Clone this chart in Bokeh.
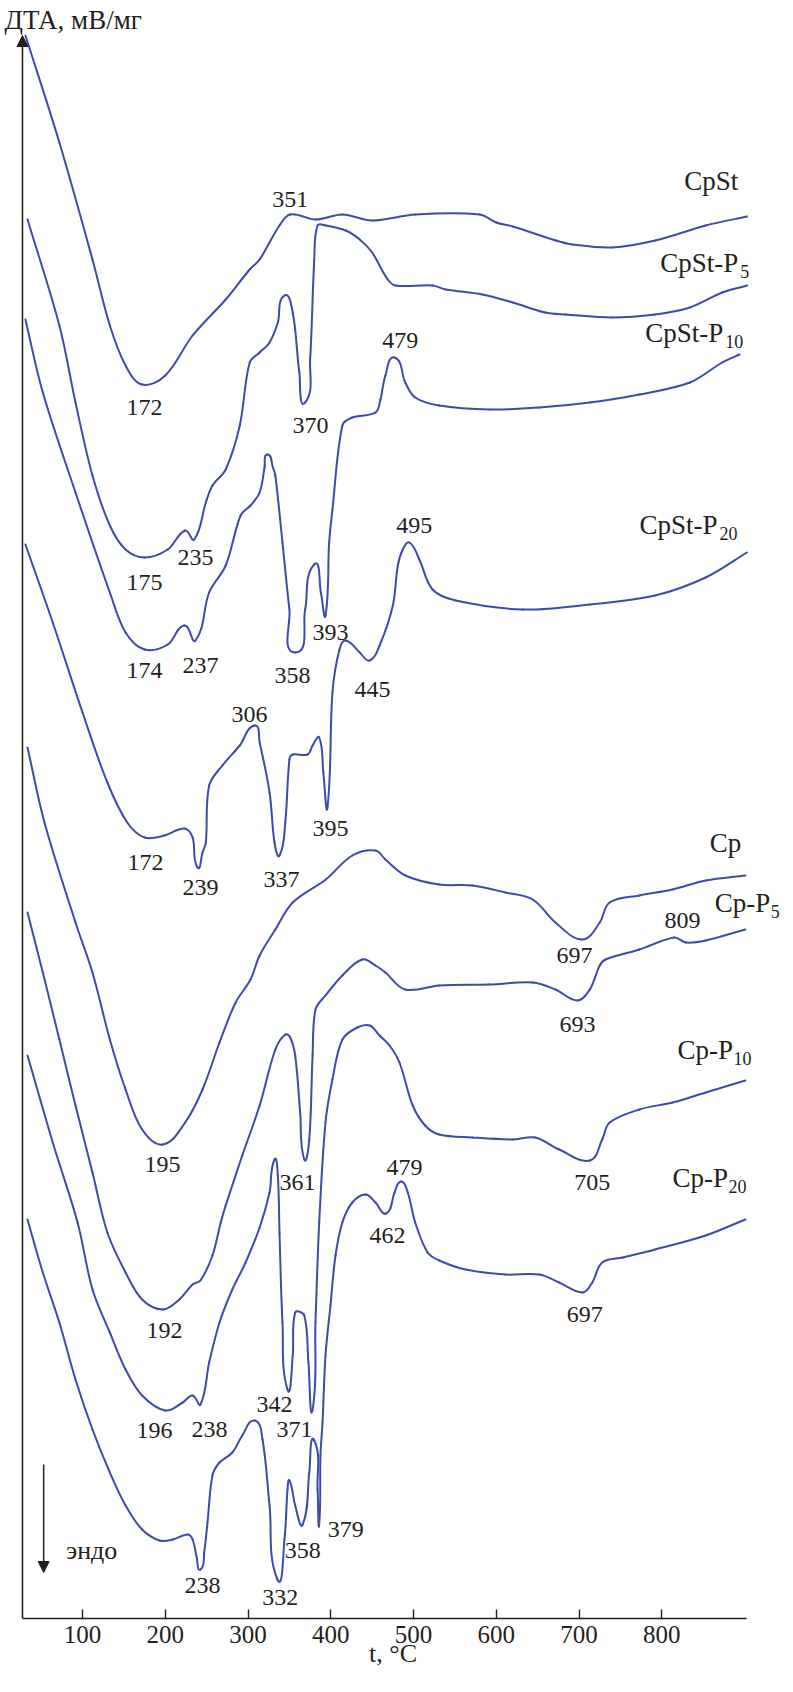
import math
from bokeh.plotting import figure
from bokeh.models import Range1d, FixedTicker, Arrow, NormalHead, Label, ColumnDataSource
from bokeh.core.properties import value
from bokeh.embed import file_html
from bokeh.resources import INLINE

FONT = "Liberation Serif"
INK = "#231f20"
BLUE = "#3d4ca9"

# ---- DTA curves: temperature (°C) and signal (arbitrary units, stacked) ----
cpst_t = [31, 72, 112, 133, 152, 172, 200, 233, 273, 302, 314, 338, 351, 382, 414, 450, 502, 580, 600, 620, 672, 692, 740, 792, 853, 903]
cpst_y = [158.3, 147.6, 135.9, 129.3, 125.3, 123.4, 124.3, 128.3, 131.9, 134.9, 135.9, 139.3, 140.4, 139.9, 140.4, 139.8, 140.4, 140.4, 139.6, 139.2, 137.8, 137.4, 137.1, 137.8, 139.3, 140.2]

cpst_p5_t = [33.5, 72, 91.5, 112, 133, 152, 175, 203, 224, 235, 249, 257, 273, 290, 302, 314, 326, 336, 344, 354, 362, 369, 375, 380, 384, 394, 418, 435, 450, 468, 478, 523, 539, 583, 620, 659, 684, 740, 792, 834, 873, 903]
cpst_p5_y = [139.9, 129.3, 121.6, 114.3, 109.3, 106.9, 106.1, 106.9, 108.8, 107.9, 111.6, 113.3, 114.9, 119.3, 125.6, 126.6, 127.6, 129.6, 132.3, 130.6, 124.6, 121.6, 125.9, 135.9, 139.3, 139.3, 138.8, 137.9, 136.6, 134.0, 133.3, 133.3, 132.9, 132.4, 131.6, 130.6, 130.4, 130.1, 130.4, 131.1, 132.6, 133.3]

cpst_p10_t = [31, 52, 91.5, 133, 152, 175, 203, 223, 236.5, 253, 273, 291, 303, 314, 320, 323.5, 330, 333, 341.6, 350, 357, 369, 380, 388, 393.6, 398, 402, 414, 426, 454, 460, 466, 477, 490, 502, 531, 592, 652, 713, 773, 834, 873, 894]
cpst_p10_y = [129.9, 122.6, 112.6, 102.6, 98.6, 96.9, 97.4, 99.3, 97.8, 102.6, 105.3, 110.3, 111.3, 112.6, 115.1, 116.4, 115.1, 114.3, 107.6, 100.9, 96.6, 100.9, 105.4, 102.6, 100.3, 107.6, 110.9, 119.3, 120.1, 120.6, 121.9, 124.3, 126.1, 123.6, 122.1, 121.3, 120.9, 121.1, 121.6, 122.4, 123.6, 125.6, 126.4]

cpst_p20_t = [31, 64, 100, 130, 154, 175, 199, 223, 233, 239, 245, 249, 253, 269, 290, 308, 314, 326, 332, 338, 345, 350, 354, 372, 378, 386, 391, 396, 402, 410.5, 418, 435, 447, 459, 475, 481, 487, 495, 507, 523, 551, 632, 713, 792, 853, 903]
cpst_p20_y = [107.4, 99.6, 90.6, 83.6, 79.6, 78.1, 78.3, 79.0, 78.1, 75.1, 76.6, 77.6, 83.3, 85.3, 87.3, 89.3, 87.6, 82.6, 77.6, 76.3, 79.6, 85.9, 86.4, 86.4, 87.3, 88.1, 84.6, 81.1, 92.6, 96.9, 97.8, 96.6, 95.8, 97.3, 101.3, 105.3, 106.9, 107.6, 105.9, 102.9, 101.8, 100.9, 101.4, 102.3, 104.1, 106.6]

cp_t = [33.5, 54, 91.5, 112, 133, 152, 172, 197, 224, 245, 265.5, 285, 303, 314, 333, 354, 394, 426, 454, 466, 490, 531, 571, 611, 644, 671.5, 704, 725, 737, 773, 813, 853, 901]
cp_y = [87.1, 79.6, 69.6, 64.6, 57.9, 52.9, 48.9, 47.4, 49.6, 52.9, 57.6, 61.6, 63.9, 66.3, 68.9, 71.6, 73.9, 76.3, 76.8, 75.9, 74.3, 73.4, 73.3, 72.6, 71.9, 69.6, 67.9, 69.6, 71.6, 72.3, 72.9, 73.8, 74.3]

cp_p5_t = [33.5, 52, 72, 91.5, 112, 130, 152, 172, 197, 217, 233, 242.5, 257, 267, 273, 293, 314, 333, 345, 351, 357, 363, 368, 374, 378, 381.5, 393.6, 414, 438, 454, 466, 490, 531, 592, 644, 671.5, 698, 713, 725, 732, 773, 815, 829, 853, 901]
cp_p5_y = [70.6, 64.6, 57.9, 51.3, 44.6, 38.6, 34.6, 31.9, 30.9, 31.9, 33.4, 33.8, 36.3, 39.6, 41.3, 46.3, 51.3, 56.9, 58.4, 58.1, 56.3, 50.6, 45.9, 47.9, 56.3, 60.9, 62.3, 64.3, 65.9, 65.3, 64.6, 62.9, 63.3, 63.4, 63.6, 62.9, 61.8, 62.9, 65.3, 65.9, 66.9, 68.1, 67.6, 67.8, 68.9]

cp_p10_t = [33.5, 64, 94, 112, 133, 152, 172, 200, 221, 233, 242.5, 253, 265.5, 281, 297, 314, 326, 332, 336, 338, 341.6, 347.7, 354, 357, 368, 373, 378, 381.5, 386, 393.6, 402, 414, 432, 447, 459, 471, 483, 499, 514, 531, 571, 620, 647, 676, 713, 728, 737, 773, 813, 853, 901]
cp_p10_y = [56.3, 47.6, 39.6, 32.9, 28.6, 24.9, 22.3, 20.8, 21.6, 22.3, 21.4, 25.6, 29.6, 32.9, 35.6, 39.1, 42.6, 45.9, 44.3, 38.6, 29.6, 22.9, 26.3, 30.6, 30.3, 25.6, 20.9, 29.6, 39.6, 49.6, 53.9, 57.9, 59.1, 59.3, 58.3, 57.3, 55.6, 51.3, 49.3, 48.4, 48.1, 47.9, 48.1, 46.9, 45.8, 47.9, 49.6, 50.9, 51.6, 52.6, 53.8]

cp_p20_t = [33.5, 52, 72, 91.5, 112, 133, 152, 172, 193, 209, 227, 233, 238, 242.5, 247, 251, 257, 265.5, 281, 293, 308, 317.5, 326, 335.6, 344, 347.7, 350, 357, 366, 374, 380, 384, 386, 387.5, 390, 393.6, 399.6, 405.7, 414, 426, 442, 454, 467, 477, 485, 493, 502, 517, 531, 563, 611, 652, 676, 704, 716, 728, 753, 792, 853, 901]
cp_p20_y = [39.9, 34.6, 29.6, 23.9, 18.9, 14.6, 11.3, 8.9, 7.8, 7.9, 8.4, 7.9, 6.1, 4.9, 6.6, 9.6, 14.3, 15.6, 16.6, 18.3, 19.8, 17.9, 11.3, 3.9, 7.9, 12.9, 13.8, 11.3, 9.4, 14.6, 17.8, 12.9, 9.4, 16.3, 19.6, 26.3, 31.3, 36.3, 39.6, 41.6, 42.4, 41.6, 40.5, 42.6, 43.7, 42.6, 39.6, 36.6, 35.8, 34.9, 34.4, 34.4, 33.6, 32.6, 33.6, 35.6, 36.1, 36.9, 38.3, 39.9]

# ---- curve names ----
curve_names = ["CpSt", "CpSt-P", "CpSt-P", "CpSt-P", "Cp", "Cp-P", "Cp-P", "Cp-P"]
curve_subs = ["", "5", "10", "20", "", "5", "10", "20"]
name_t = [827, 798, 780, 773, 858, 864, 819, 813]
name_y = [143.8, 135.6, 128.6, 109.4, 77.6, 71.6, 56.9, 44.1]
sub_dx = [0, 80, 80, 80, 0, 56, 56, 56]

# ---- peak temperature annotations ----
peak_text = ["172", "351",
             "175", "235", "370",
             "174", "237", "358", "393", "479",
             "172", "239", "306", "337", "395", "445", "495",
             "195", "697",
             "192", "361", "693", "809",
             "196", "238", "342", "371", "705",
             "238", "332", "358", "379", "462", "479", "697"]
peak_t = [175, 351,
          175, 236.5, 375.5,
          175, 242.5, 353.7, 399.6, 484,
          176, 242.5, 301.8, 340.4, 399.6, 450.4, 501,
          196.6, 694.5,
          199, 359.7, 698, 825,
          187, 253.4, 332, 356, 716,
          245, 339, 366, 418, 468.5, 489, 707]
peak_y = [121.1, 141.9,
          103.6, 106.1, 119.3,
          94.8, 95.3, 94.3, 98.6, 127.8,
          75.6, 73.1, 90.4, 73.9, 79.0, 92.9, 109.3,
          45.4, 66.3,
          28.8, 43.6, 59.4, 69.8,
          18.8, 18.9, 21.4, 18.9, 43.6,
          3.3, 2.1, 6.8, 8.9, 38.3, 45.1, 30.4]

x_ticks = [100, 200, 300, 400, 500, 600, 700, 800]

curves = [(cpst_t, cpst_y), (cpst_p5_t, cpst_p5_y), (cpst_p10_t, cpst_p10_y),
          (cpst_p20_t, cpst_p20_y), (cp_t, cp_y), (cp_p5_t, cp_p5_y),
          (cp_p10_t, cp_p10_y), (cp_p20_t, cp_p20_y)]

# axis extent (data units) and view extent
T_MIN, T_MAX = 27.4, 902.4
Y_TOP = 158.3

p = figure(width=785, height=1676, output_backend="svg", toolbar_location=None,
           x_range=Range1d(0.85, 949.5), y_range=Range1d(0, 161.8),
           y_axis_location=None,
           min_border_left=0, min_border_right=0, min_border_top=0,
           min_border_bottom=58, background_fill_color="white",
           border_fill_color="white")
p.title.visible = False
p.xgrid.visible = False
p.ygrid.visible = False
p.outline_line_color = None

xa = p.xaxis[0]
xa.bounds = (T_MIN, T_MAX)
xa.ticker = FixedTicker(ticks=x_ticks)
xa.major_tick_in = 9
xa.major_tick_out = 0
xa.minor_tick_line_color = None
xa.axis_line_width = 1.6
xa.axis_line_color = INK
xa.major_tick_line_color = INK
xa.major_tick_line_width = 1.4
xa.major_label_text_font = FONT
xa.major_label_text_font_size = "25px"
xa.major_label_text_color = INK
xa.major_label_standoff = 7
xa.axis_label = "t, °C"
xa.axis_label_text_font = FONT
xa.axis_label_text_font_size = "26px"
xa.axis_label_text_font_style = "normal"
xa.axis_label_text_color = INK
xa.axis_label_standoff = -7

# smooth drawing of each measured curve (cubic segments through the read points)
SX, SY = 0.8275, 10.0
def segments(ts, ys):
    P = [(t * SX, y * SY) for t, y in zip(ts, ys)]
    n = len(P)
    tang = []
    for i in range(n):
        a = P[max(i - 1, 0)]
        b = P[min(i + 1, n - 1)]
        dx, dy = b[0] - a[0], b[1] - a[1]
        L = math.hypot(dx, dy) or 1.0
        tang.append((dx / L, dy / L))
    out = {k: [] for k in ("x0", "y0", "x1", "y1", "cx0", "cy0", "cx1", "cy1")}
    for i in range(n - 1):
        (ax, ay), (bx, by) = P[i], P[i + 1]
        d = math.hypot(bx - ax, by - ay) / 3.0
        out["x0"].append(ax / SX); out["y0"].append(ay / SY)
        out["x1"].append(bx / SX); out["y1"].append(by / SY)
        out["cx0"].append((ax + tang[i][0] * d) / SX)
        out["cy0"].append((ay + tang[i][1] * d) / SY)
        out["cx1"].append((bx - tang[i + 1][0] * d) / SX)
        out["cy1"].append((by - tang[i + 1][1] * d) / SY)
    return out

for t, y in curves:
    s = ColumnDataSource(segments(t, y))
    p.bezier(x0="x0", y0="y0", x1="x1", y1="y1", cx0="cx0", cy0="cy0",
             cx1="cx1", cy1="cy1", source=s, line_color=BLUE, line_width=2.0,
             line_cap="round")

src = ColumnDataSource(dict(x=peak_t, y=peak_y, text=peak_text))
p.text(x="x", y="y", text="text", source=src, text_font=value(FONT),
       text_font_size="24px", text_align="center", text_baseline="middle",
       text_color=INK)

nsrc = ColumnDataSource(dict(x=name_t, y=name_y, text=curve_names))
p.text(x="x", y="y", text="text", source=nsrc, text_font=value(FONT),
       text_font_size="27px", text_align="left", text_baseline="middle",
       text_color=INK)
for i in range(len(curve_subs)):
    if curve_subs[i]:
        p.text(x=[name_t[i]], y=[name_y[i]], text=[curve_subs[i]],
               text_font=value(FONT), text_font_size="18px", text_align="left",
               text_baseline="middle", text_color=INK,
               x_offset=sub_dx[i], y_offset=9)

# vertical (signal) axis with arrow head
p.add_layout(Arrow(end=NormalHead(size=11, fill_color=INK, line_color=INK),
                   x_start=T_MIN, y_start=0, x_end=T_MIN, y_end=Y_TOP,
                   line_color=INK, line_width=1.6))
# endo arrow
p.add_layout(Arrow(end=NormalHead(size=11, fill_color=INK, line_color=INK),
                   x_start=53, y_start=15.4, x_end=53, y_end=4.6,
                   line_color=INK, line_width=1.5))
p.add_layout(Label(x=80, y=6.8, text="эндо", text_font=FONT,
                   text_font_size="26px", text_baseline="middle",
                   text_align="left", text_color=INK))

# signal axis title
p.add_layout(Label(x=5.7, y=159.9, text="ДТА, мВ/мг", text_font=FONT,
                   text_font_size="27px", text_baseline="middle",
                   text_align="left", text_color=INK))

open("out.html", "w").write(file_html(p, INLINE))
